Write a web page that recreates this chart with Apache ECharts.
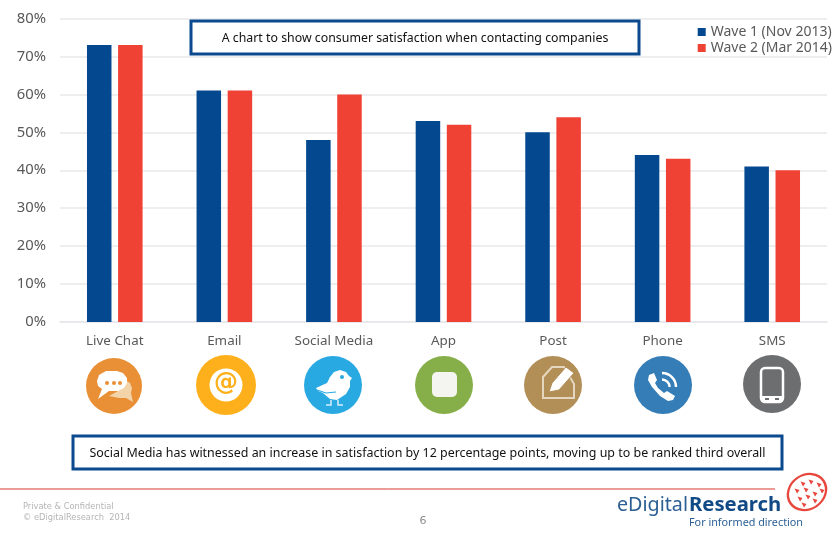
<!DOCTYPE html>
<html>
<head>
<meta charset="utf-8">
<style>
html,body{margin:0;padding:0;background:#fff}
#container{width:836px;height:537px}
</style>
<script src="https://cdn.jsdelivr.net/npm/echarts@6/dist/echarts.min.js"></script>
</head>
<body>
<div id="container"></div>
<script>
var categories = ['Live Chat', 'Email', 'Social Media', 'App', 'Post', 'Phone', 'SMS'];
var wave1 = [73, 61, 48, 53, 50, 44, 41];
var wave2 = [73, 61, 60, 52, 54, 43, 40];
var wave1Name = 'Wave 1 (Nov 2013)';
var wave2Name = 'Wave 2 (Mar 2014)';
var topNote = 'A chart to show consumer satisfaction when contacting companies';
var bottomNote = 'Social Media has witnessed an increase in satisfaction by 12 percentage points, moving up to be ranked third overall';

var font = '"DejaVu Sans", Verdana, sans-serif';
var bodyFont = '"Noto Sans", "Open Sans", sans-serif';
var myChart = echarts.init(document.getElementById('container'));

// 说明框
function noteBox(x, y, w, h, text, size) {
	return [
		{type: 'rect', shape: {x: x, y: y, width: w, height: h}, style: {fill: '#fff', stroke: '#0B4A8F', lineWidth: 3}, z: 10},
		{type: 'text', x: x + w / 2, y: y + h / 2 + 1, style: {text: text, fill: '#111', font: size + 'px ' + bodyFont, align: 'center', verticalAlign: 'middle'}, z: 11}
	];
}

function circle(x, y, r, color, z) {
	return {type: 'circle', shape: {cx: x, cy: y, r: r}, style: {fill: color}, z: z || 10};
}

// 图标轮廓,点以圆心为原点
function glyph(x, y, pts, fill, z) {
	return {type: 'polygon', shape: {points: pts.map(function (p) { return [x + p[0], y + p[1]]; })}, style: {fill: fill}, z: z || 11};
}

function icons() {
	var g = [];
	// Live Chat
	g.push(circle(114, 386, 28, '#E98F35'));
	g.push(glyph(114, 386, [[11, -6], [16, -3], [18, 2], [17, 7], [19, 16], [12, 12], [5, 12], [-5, 10], [4, 5], [10, 0]], '#F3D3A8'));
	g.push(glyph(114, 386, [[-8, -15], [3, -15], [9, -13], [13, -8], [13, -3], [10, 2], [4, 5], [-5, 5], [-16, 13], [-12, 3], [-16, 0], [-17, -5], [-15, -11]], '#fff', 12));
	[-7, 0, 6].forEach(function (dx) { g.push(circle(114 + dx, 383, 2, '#E98F35', 13)); });
	// Email
	g.push(circle(226, 385, 30, '#FDB01B'));
	g.push(circle(226, 385, 16.5, '#fff', 11));
	g.push({type: 'text', x: 226, y: 384, style: {text: '@', fill: '#FDB01B', font: 'bold 24px ' + font, align: 'center', verticalAlign: 'middle'}, z: 12});
	// Social Media
	g.push(circle(333, 385, 29, '#29A9E1'));
	g.push(glyph(333, 385, [[-17, 3], [-6, -2], [-3, -8], [1, -13], [7, -15], [13, -13], [16, -9], [19, -7], [17, -4], [17, 2], [13, 9], [4, 15], [-3, 14], [-10, 8], [-15, 6]], '#fff'));
	g.push(circle(342, 377, 2, '#29A9E1', 12));
	g.push({type: 'polyline', shape: {points: [[331, 400], [331, 405], [326, 405]]}, style: {stroke: '#D5EEFA', lineWidth: 1.5, fill: 'none'}, z: 11});
	g.push({type: 'polyline', shape: {points: [[338, 400], [338, 405], [343, 405]]}, style: {stroke: '#D5EEFA', lineWidth: 1.5, fill: 'none'}, z: 11});
	g.push({type: 'polyline', shape: {points: [[317, 390], [326, 393], [336, 392]]}, style: {stroke: '#29A9E1', lineWidth: 1.2, fill: 'none'}, z: 12});
	// App
	g.push(circle(444, 385, 29, '#86AF49'));
	g.push({type: 'rect', shape: {x: 432, y: 372, width: 25, height: 25, r: 5}, style: {fill: '#F4F4F1'}, z: 11});
	// Post
	g.push(circle(553, 385, 29, '#B38F58'));
	g.push({type: 'polygon', shape: {points: [[552, 367], [564, 367], [574, 384], [574, 398], [543, 398], [543, 377]]}, style: {fill: 'none', stroke: '#E5D7BF', lineWidth: 2}, z: 11});
	g.push({type: 'polygon', shape: {points: [[549, 392], [552, 383], [566, 367], [574, 373], [559, 390]]}, style: {fill: '#fff', stroke: '#B38F58', lineWidth: 1}, z: 12});
	// Phone
	g.push(circle(663, 385, 29, '#357DB6'));
	g.push(glyph(663, 385, [[-14, -10], [-9, -12], [-6, -5], [-8, -2], [-5, 3], [1, 8], [4, 6], [12, 11], [10, 15], [5, 16], [-3, 11], [-11, 2], [-15, -5]], '#fff'));
	g.push({type: 'arc', shape: {cx: 662, cy: 387, r: 7.5, startAngle: -Math.PI / 2, endAngle: 0}, style: {stroke: '#fff', lineWidth: 2.5, fill: 'none'}, z: 11});
	g.push({type: 'arc', shape: {cx: 662, cy: 387, r: 14, startAngle: -Math.PI / 2, endAngle: 0}, style: {stroke: '#fff', lineWidth: 2.5, fill: 'none'}, z: 11});
	// SMS
	g.push(circle(772, 384, 29, '#6D6E70'));
	g.push({type: 'rect', shape: {x: 761, y: 368, width: 22, height: 34, r: 4}, style: {fill: '#6D6E70', stroke: '#fff', lineWidth: 2.5}, z: 11});
	g.push({type: 'rect', shape: {x: 761, y: 396, width: 22, height: 6, r: 2}, style: {fill: '#fff'}, z: 12});
	g.push({type: 'rect', shape: {x: 765, y: 398, width: 4, height: 2}, style: {fill: '#6D6E70'}, z: 13});
	g.push({type: 'rect', shape: {x: 775, y: 398, width: 4, height: 2}, style: {fill: '#6D6E70'}, z: 13});
	return g;
}

function footer() {
	var g = [
		{type: 'line', shape: {x1: 0, y1: 489, x2: 775, y2: 489}, style: {stroke: '#D9392E', lineWidth: 1}, z: 5},
		{type: 'text', x: 23, y: 507, style: {text: 'Private & Confidential', fill: '#B5B5B5', font: '8.3px ' + font, verticalAlign: 'middle'}},
		{type: 'text', x: 23, y: 518, style: {text: '\u00A9 eDigitalResearch  2014', fill: '#B5B5B5', font: '8.3px ' + font, verticalAlign: 'middle'}},
		{type: 'text', x: 423, y: 521, style: {text: '6', fill: '#8C8C8C', font: '11px ' + font, align: 'center', verticalAlign: 'middle'}},
		// logo
		{type: 'text', x: 617, y: 505, style: {text: 'eDigital', fill: '#2C5F94', font: '19.7px ' + bodyFont, verticalAlign: 'middle'}},
		{type: 'text', x: 689, y: 505, style: {text: 'Research', fill: '#114A85', font: 'bold 20.3px ' + bodyFont, verticalAlign: 'middle'}},
		{type: 'text', x: 689, y: 523, style: {text: 'For informed direction', fill: '#2C5F94', font: '10.8px ' + bodyFont, verticalAlign: 'middle'}},
		{type: 'circle', x: 807, y: 492, shape: {cx: 0, cy: 0, r: 20}, scaleY: 0.85, rotation: 0.6, style: {fill: '#fff', stroke: '#E8473D', lineWidth: 2.5}, z: 6}
	];
	var specks = [[803, 484], [811, 482], [819, 485], [797, 491], [806, 490], [815, 494], [822, 491], [800, 499], [808, 497], [815, 501], [804, 505]];
	specks.forEach(function (p) {
		g.push({type: 'polygon', shape: {points: [[p[0] - 2.5, p[1] - 2.5], [p[0] + 2.5, p[1] - 1], [p[0], p[1] + 2.5]]}, style: {fill: '#E8473D'}, z: 7});
	});
	return g;
}

var option = {
	animation: false,
	backgroundColor: '#fff',
	textStyle: {fontFamily: font},
	grid: {left: 60, right: 9, top: 18.5, bottom: 215, containLabel: false},
	legend: {
		orient: 'vertical',
		right: -1,
		top: 20,
		itemWidth: 8,
		itemHeight: 8,
		itemGap: 2,
		icon: 'rect',
		selectedMode: false,
		textStyle: {color: '#595959', fontSize: 14, fontFamily: bodyFont},
		data: [wave1Name, wave2Name]
	},
	xAxis: {
		type: 'category',
		data: categories,
		axisTick: {show: false},
		axisLine: {lineStyle: {color: '#E8E8EC', width: 1.5}},
		axisLabel: {color: '#595959', fontSize: 13.4, margin: 13, interval: 0, fontFamily: bodyFont}
	},
	yAxis: {
		type: 'value',
		min: 0,
		max: 80,
		interval: 10,
		axisLine: {show: false},
		axisTick: {show: false},
		axisLabel: {color: '#595959', fontSize: 14.8, margin: 14, padding: [2, 0, 0, 0], formatter: '{value}%', fontFamily: bodyFont},
		splitLine: {lineStyle: {color: '#E8E8EC', width: 1.5}}
	},
	series: [
		{name: wave1Name, type: 'bar', data: wave1, barWidth: 24.5, barGap: '27%', itemStyle: {color: '#04488F'}},
		{name: wave2Name, type: 'bar', data: wave2, barWidth: 24.5, itemStyle: {color: '#F04234'}}
	],
	graphic: {
		elements: []
			.concat(noteBox(191, 21, 448, 33, topNote, 12.35))
			.concat(noteBox(73, 436, 709, 33, bottomNote, 12.45))
			.concat(icons())
			.concat(footer())
	}
};
myChart.setOption(option);
</script>
</body>
</html>
